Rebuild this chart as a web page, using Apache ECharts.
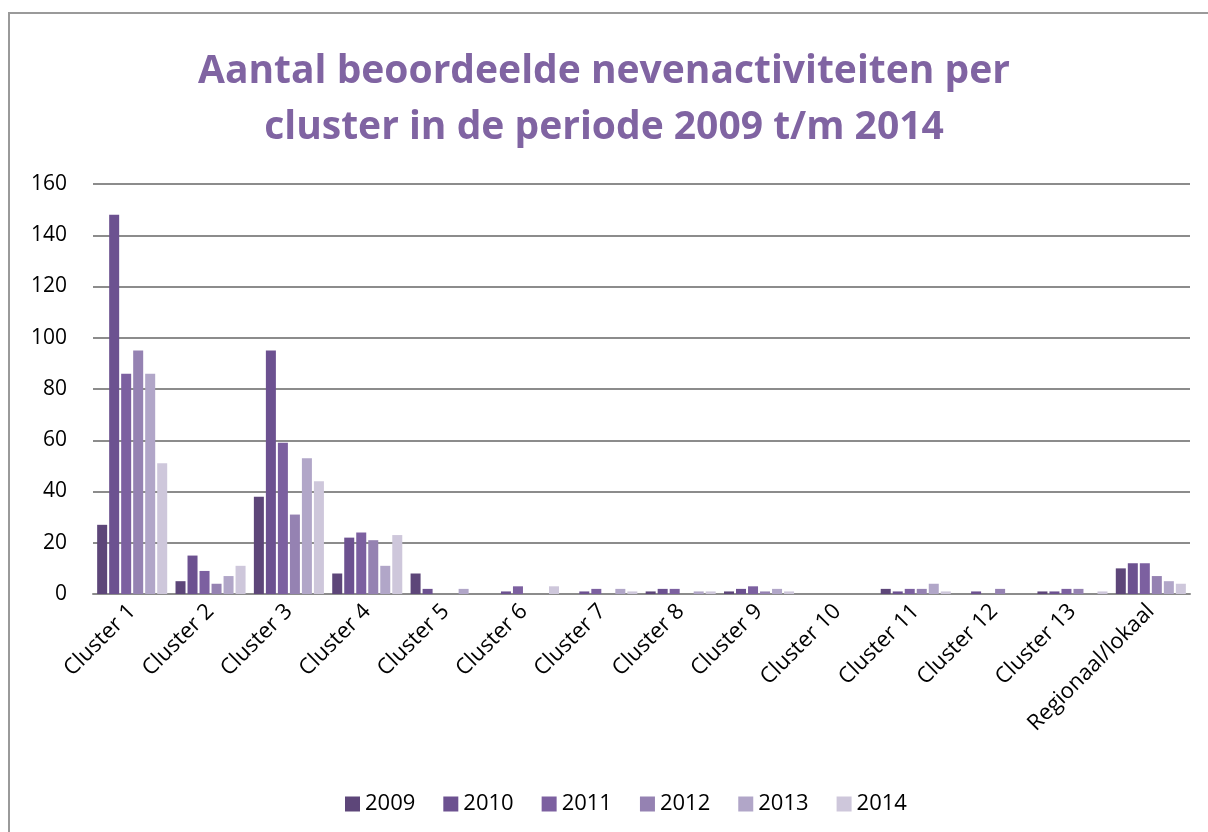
<!DOCTYPE html>
<html>
<head>
<meta charset="utf-8">
<script src="https://cdn.jsdelivr.net/npm/echarts@6/dist/echarts.min.js"></script>
<style>
  html, body { margin: 0; padding: 0; background: #fff; }
  #frame {
    position: absolute; left: 8px; top: 12px; width: 1300px; height: 900px;
    border-left: 2px solid #9a9a9a; border-top: 2px solid #9a9a9a;
  }
  #chart { position: absolute; left: 0; top: 0; width: 1208px; height: 832px; }
</style>
</head>
<body>
<div id="frame"></div>
<div id="chart"></div>
<script>
// Categorieen en jaren
const clusters = ['Cluster 1', 'Cluster 2', 'Cluster 3', 'Cluster 4', 'Cluster 5', 'Cluster 6', 'Cluster 7',
    'Cluster 8', 'Cluster 9', 'Cluster 10', 'Cluster 11', 'Cluster 12', 'Cluster 13', 'Regionaal/lokaal'];
const years = ['2009', '2010', '2011', '2012', '2013', '2014'];

// Aantallen per jaar (volgorde van clusters)
const data2009 = [27, 5, 38, 8, 8, 0, 0, 1, 1, 0, 2, 0, 1, 10];
const data2010 = [148, 15, 95, 22, 2, 1, 1, 2, 2, 0, 1, 1, 1, 12];
const data2011 = [86, 9, 59, 24, 0, 3, 2, 2, 3, 0, 2, 0, 2, 12];
const data2012 = [95, 4, 31, 21, 0, 0, 0, 0, 1, 0, 2, 2, 2, 7];
const data2013 = [86, 7, 53, 11, 2, 0, 2, 1, 2, 0, 4, 0, 0, 5];
const data2014 = [51, 11, 44, 23, 0, 3, 1, 1, 1, 0, 1, 0, 1, 4];

const yearData = [data2009, data2010, data2011, data2012, data2013, data2014];
const colors = ['#5d4679', '#6c5190', '#7c60a0', '#9582b2', '#b1a6c8', '#cec7db'];

const font = '"Open Sans", sans-serif';
const chart = echarts.init(document.getElementById('chart'));

chart.setOption({
    color: colors,
    animation: false,
    title: {
        text: 'Aantal beoordeelde nevenactiviteiten per\ncluster in de periode 2009 t/m 2014',
        left: 'center',
        top: 39,
        textStyle: {
            fontFamily: font,
            fontWeight: 'bold',
            fontSize: 39,
            lineHeight: 56,
            color: '#8064a2'
        }
    },
    legend: {
        bottom: 12,
        left: 340,
        itemWidth: 15,
        itemHeight: 15,
        itemGap: 28,
        icon: 'rect',
        textStyle: { fontFamily: font, fontSize: 22, color: '#000' },
        data: years
    },
    grid: { left: 93, right: 18, top: 184, bottom: 238 },
    xAxis: {
        type: 'category',
        data: clusters,
        axisLine: { lineStyle: { color: '#8c8c8c', width: 2 } },
        axisTick: { show: false },
        axisLabel: { rotate: 45, interval: 0, fontFamily: font, fontSize: 22, color: '#000', margin: 14 }
    },
    yAxis: {
        type: 'value',
        min: 0,
        max: 160,
        interval: 20,
        axisLine: { show: false },
        axisTick: { show: false },
        axisLabel: { fontFamily: font, fontSize: 21, color: '#000', margin: 26 },
        splitLine: { lineStyle: { color: '#8c8c8c', width: 2 } }
    },
    series: years.map((y, i) => ({
        name: y,
        type: 'bar',
        data: yearData[i],
        barGap: '20%',
        barCategoryGap: '10.6%'
    }))
});
</script>
</body>
</html>
